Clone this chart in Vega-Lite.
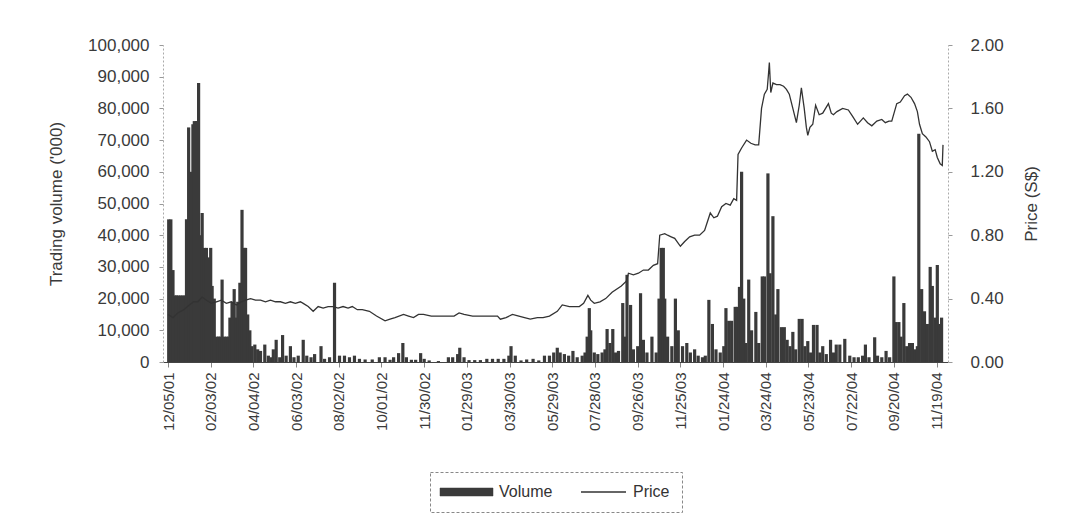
{
  "$schema": "https://vega.github.io/schema/vega-lite/v6.json",
  "width": 785,
  "height": 317,
  "autosize": {"type": "none"},
  "padding": {"left": 163, "top": 45, "right": 119, "bottom": 159},
  "background": "white",
  "config": {
    "view": {"stroke": null},
    "font": "Liberation Sans",
    "axis": {"labelFont": "Liberation Sans", "titleFont": "Liberation Sans", "labelColor": "#3a3a3a", "titleColor": "#3a3a3a", "grid": false, "titleFontWeight": "normal"}
  },
  "datasets": {
    "vol": [
      {"d":"2001-12-06","v":45000},{"d":"2001-12-09","v":45000},{"d":"2001-12-12","v":29000},{"d":"2001-12-15","v":21000},
      {"d":"2001-12-17","v":21000},{"d":"2001-12-20","v":21000},{"d":"2001-12-23","v":21000},{"d":"2001-12-26","v":21000},
      {"d":"2001-12-29","v":21000},{"d":"2001-12-31","v":45000},{"d":"2002-01-03","v":74000},{"d":"2002-01-06","v":60000},
      {"d":"2002-01-09","v":75000},{"d":"2002-01-11","v":76000},{"d":"2002-01-14","v":76000},{"d":"2002-01-17","v":88000},
      {"d":"2002-01-20","v":40000},{"d":"2002-01-22","v":47000},{"d":"2002-01-25","v":36000},{"d":"2002-01-28","v":36000},
      {"d":"2002-01-31","v":33000},{"d":"2002-02-03","v":36000},{"d":"2002-02-05","v":24000},{"d":"2002-02-08","v":20000},
      {"d":"2002-02-11","v":8000},{"d":"2002-02-14","v":8000},{"d":"2002-02-16","v":8000},{"d":"2002-02-19","v":26000},
      {"d":"2002-02-22","v":8000},{"d":"2002-02-25","v":8000},{"d":"2002-02-28","v":8000},{"d":"2002-03-02","v":14000},
      {"d":"2002-03-05","v":19000},{"d":"2002-03-08","v":23000},{"d":"2002-03-11","v":14000},{"d":"2002-03-13","v":19000},
      {"d":"2002-03-16","v":25000},{"d":"2002-03-19","v":48000},{"d":"2002-03-22","v":36000},{"d":"2002-03-24","v":36000},
      {"d":"2002-03-27","v":15000},{"d":"2002-03-30","v":10000},{"d":"2002-04-02","v":5000},{"d":"2002-04-06","v":5500},
      {"d":"2002-04-10","v":4000},{"d":"2002-04-14","v":3500},{"d":"2002-04-20","v":5500},{"d":"2002-04-25","v":2000},
      {"d":"2002-04-29","v":1500},{"d":"2002-05-02","v":4000},{"d":"2002-05-06","v":7000},{"d":"2002-05-11","v":1500},
      {"d":"2002-05-15","v":8500},{"d":"2002-05-20","v":2000},{"d":"2002-05-26","v":5000},{"d":"2002-05-31","v":1500},
      {"d":"2002-06-06","v":2000},{"d":"2002-06-13","v":7000},{"d":"2002-06-18","v":2000},{"d":"2002-06-24","v":1500},
      {"d":"2002-06-29","v":2500},{"d":"2002-07-08","v":5000},{"d":"2002-07-13","v":1000},{"d":"2002-07-20","v":1500},
      {"d":"2002-07-27","v":25000},{"d":"2002-08-03","v":2000},{"d":"2002-08-10","v":2000},{"d":"2002-08-17","v":1500},
      {"d":"2002-08-24","v":2000},{"d":"2002-08-31","v":1000},{"d":"2002-09-08","v":800},{"d":"2002-09-18","v":800},
      {"d":"2002-09-28","v":1500},{"d":"2002-10-06","v":1500},{"d":"2002-10-13","v":700},{"d":"2002-10-18","v":1500},
      {"d":"2002-10-25","v":2800},{"d":"2002-10-31","v":6000},{"d":"2002-11-05","v":1500},{"d":"2002-11-12","v":700},
      {"d":"2002-11-18","v":700},{"d":"2002-11-25","v":2800},{"d":"2002-11-30","v":1000},{"d":"2002-12-07","v":500},
      {"d":"2002-12-20","v":300},{"d":"2003-01-03","v":1500},{"d":"2003-01-09","v":1500},{"d":"2003-01-16","v":2500},
      {"d":"2003-01-19","v":4500},{"d":"2003-01-25","v":1500},{"d":"2003-02-01","v":600},{"d":"2003-02-09","v":600},
      {"d":"2003-02-17","v":600},{"d":"2003-02-26","v":1000},{"d":"2003-03-06","v":1000},{"d":"2003-03-14","v":1000},
      {"d":"2003-03-22","v":1000},{"d":"2003-03-29","v":2000},{"d":"2003-04-01","v":5000},{"d":"2003-04-07","v":2000},
      {"d":"2003-04-15","v":500},{"d":"2003-04-23","v":800},{"d":"2003-05-02","v":1000},{"d":"2003-05-10","v":500},
      {"d":"2003-05-18","v":2000},{"d":"2003-05-25","v":2000},{"d":"2003-05-31","v":3000},{"d":"2003-06-05","v":4500},
      {"d":"2003-06-09","v":3000},{"d":"2003-06-15","v":2500},{"d":"2003-06-21","v":2000},{"d":"2003-06-27","v":3500},
      {"d":"2003-07-03","v":1500},{"d":"2003-07-10","v":2000},{"d":"2003-07-14","v":3000},{"d":"2003-07-17","v":8000},
      {"d":"2003-07-20","v":17000},{"d":"2003-07-22","v":10000},{"d":"2003-07-27","v":3000},{"d":"2003-08-01","v":2500},
      {"d":"2003-08-07","v":3000},{"d":"2003-08-11","v":4000},{"d":"2003-08-14","v":10400},{"d":"2003-08-18","v":6000},
      {"d":"2003-08-22","v":10400},{"d":"2003-08-26","v":3000},{"d":"2003-08-30","v":3500},{"d":"2003-09-05","v":18600},
      {"d":"2003-09-09","v":8000},{"d":"2003-09-11","v":27500},{"d":"2003-09-16","v":18000},{"d":"2003-09-20","v":4000},
      {"d":"2003-09-26","v":5000},{"d":"2003-09-30","v":21700},{"d":"2003-10-04","v":7000},{"d":"2003-10-09","v":3000},
      {"d":"2003-10-16","v":8000},{"d":"2003-10-22","v":3000},{"d":"2003-10-26","v":20000},{"d":"2003-10-29","v":36000},
      {"d":"2003-11-01","v":36000},{"d":"2003-11-03","v":20000},{"d":"2003-11-07","v":8000},{"d":"2003-11-13","v":5000},
      {"d":"2003-11-18","v":20000},{"d":"2003-11-22","v":10000},{"d":"2003-11-28","v":5000},{"d":"2003-12-04","v":6000},
      {"d":"2003-12-09","v":3000},{"d":"2003-12-15","v":4000},{"d":"2003-12-20","v":2000},{"d":"2003-12-26","v":1500},
      {"d":"2003-12-30","v":2000},{"d":"2004-01-04","v":19600},{"d":"2004-01-09","v":12000},{"d":"2004-01-14","v":4000},
      {"d":"2004-01-20","v":3000},{"d":"2004-01-25","v":5000},{"d":"2004-01-28","v":17000},{"d":"2004-02-01","v":13000},
      {"d":"2004-02-05","v":13000},{"d":"2004-02-10","v":17400},{"d":"2004-02-13","v":17400},{"d":"2004-02-16","v":23700},
      {"d":"2004-02-19","v":60000},{"d":"2004-02-22","v":20000},{"d":"2004-02-25","v":6000},{"d":"2004-02-29","v":26000},
      {"d":"2004-03-04","v":10000},{"d":"2004-03-10","v":15800},{"d":"2004-03-14","v":6000},{"d":"2004-03-19","v":27000},
      {"d":"2004-03-22","v":27000},{"d":"2004-03-27","v":59500},{"d":"2004-03-30","v":28000},{"d":"2004-04-03","v":46000},
      {"d":"2004-04-07","v":15000},{"d":"2004-04-10","v":23000},{"d":"2004-04-15","v":11000},{"d":"2004-04-19","v":11000},
      {"d":"2004-04-23","v":7000},{"d":"2004-04-27","v":5000},{"d":"2004-05-01","v":9500},{"d":"2004-05-05","v":4000},
      {"d":"2004-05-10","v":13600},{"d":"2004-05-14","v":13600},{"d":"2004-05-18","v":5000},{"d":"2004-05-22","v":6600},
      {"d":"2004-05-26","v":3000},{"d":"2004-05-30","v":11700},{"d":"2004-06-04","v":11700},{"d":"2004-06-08","v":3000},
      {"d":"2004-06-12","v":5000},{"d":"2004-06-17","v":2500},{"d":"2004-06-23","v":7000},{"d":"2004-06-27","v":3000},
      {"d":"2004-07-01","v":5500},{"d":"2004-07-06","v":5500},{"d":"2004-07-13","v":7300},{"d":"2004-07-20","v":2000},
      {"d":"2004-07-26","v":1500},{"d":"2004-08-01","v":1500},{"d":"2004-08-07","v":2000},{"d":"2004-08-11","v":5500},
      {"d":"2004-08-16","v":1500},{"d":"2004-08-24","v":7800},{"d":"2004-08-28","v":2000},{"d":"2004-09-03","v":1500},
      {"d":"2004-09-09","v":3500},{"d":"2004-09-14","v":1500},{"d":"2004-09-20","v":27000},{"d":"2004-09-23","v":12600},
      {"d":"2004-09-27","v":12600},{"d":"2004-09-30","v":8000},{"d":"2004-10-04","v":18600},{"d":"2004-10-08","v":5000},
      {"d":"2004-10-12","v":6000},{"d":"2004-10-16","v":6000},{"d":"2004-10-20","v":4000},{"d":"2004-10-23","v":5000},
      {"d":"2004-10-25","v":72000},{"d":"2004-10-29","v":23000},{"d":"2004-11-02","v":16000},{"d":"2004-11-06","v":12000},
      {"d":"2004-11-10","v":30000},{"d":"2004-11-13","v":24000},{"d":"2004-11-17","v":14000},{"d":"2004-11-20","v":30600},
      {"d":"2004-11-23","v":12000},{"d":"2004-11-26","v":14000}
    ],
    "price": [
      {"d":"2001-12-05","p":0.30},{"d":"2001-12-12","p":0.28},{"d":"2001-12-19","p":0.31},{"d":"2001-12-27","p":0.33},
      {"d":"2002-01-04","p":0.36},{"d":"2002-01-10","p":0.38},{"d":"2002-01-16","p":0.38},{"d":"2002-01-22","p":0.41},
      {"d":"2002-01-28","p":0.39},{"d":"2002-02-04","p":0.37},{"d":"2002-02-11","p":0.38},{"d":"2002-02-18","p":0.39},
      {"d":"2002-02-25","p":0.37},{"d":"2002-03-04","p":0.38},{"d":"2002-03-11","p":0.36},{"d":"2002-03-18","p":0.38},
      {"d":"2002-03-24","p":0.39},{"d":"2002-03-31","p":0.40},{"d":"2002-04-07","p":0.39},{"d":"2002-04-14","p":0.39},
      {"d":"2002-04-21","p":0.38},{"d":"2002-04-28","p":0.39},{"d":"2002-05-05","p":0.38},{"d":"2002-05-12","p":0.38},
      {"d":"2002-05-19","p":0.37},{"d":"2002-05-26","p":0.38},{"d":"2002-06-02","p":0.37},{"d":"2002-06-09","p":0.38},
      {"d":"2002-06-13","p":0.37},{"d":"2002-06-20","p":0.35},{"d":"2002-06-27","p":0.32},{"d":"2002-07-04","p":0.35},
      {"d":"2002-07-11","p":0.34},{"d":"2002-07-18","p":0.35},{"d":"2002-07-25","p":0.35},{"d":"2002-08-01","p":0.34},
      {"d":"2002-08-08","p":0.35},{"d":"2002-08-15","p":0.34},{"d":"2002-08-21","p":0.35},{"d":"2002-08-28","p":0.33},
      {"d":"2002-09-04","p":0.33},{"d":"2002-09-14","p":0.32},{"d":"2002-09-24","p":0.29},{"d":"2002-10-06","p":0.26},
      {"d":"2002-10-13","p":0.27},{"d":"2002-10-20","p":0.28},{"d":"2002-11-01","p":0.30},{"d":"2002-11-08","p":0.29},
      {"d":"2002-11-15","p":0.28},{"d":"2002-11-22","p":0.30},{"d":"2002-11-29","p":0.30},{"d":"2002-12-10","p":0.29},
      {"d":"2002-12-20","p":0.29},{"d":"2003-01-04","p":0.29},{"d":"2003-01-11","p":0.29},{"d":"2003-01-18","p":0.31},
      {"d":"2003-01-25","p":0.30},{"d":"2003-02-06","p":0.29},{"d":"2003-02-17","p":0.29},{"d":"2003-03-01","p":0.29},
      {"d":"2003-03-13","p":0.29},{"d":"2003-03-17","p":0.27},{"d":"2003-03-25","p":0.28},{"d":"2003-04-03","p":0.30},
      {"d":"2003-04-12","p":0.29},{"d":"2003-04-20","p":0.28},{"d":"2003-04-28","p":0.27},{"d":"2003-05-08","p":0.28},
      {"d":"2003-05-16","p":0.28},{"d":"2003-05-25","p":0.29},{"d":"2003-06-05","p":0.32},{"d":"2003-06-12","p":0.36},
      {"d":"2003-06-22","p":0.35},{"d":"2003-07-06","p":0.35},{"d":"2003-07-12","p":0.37},{"d":"2003-07-18","p":0.42},
      {"d":"2003-07-22","p":0.39},{"d":"2003-07-27","p":0.37},{"d":"2003-08-04","p":0.38},{"d":"2003-08-12","p":0.40},
      {"d":"2003-08-21","p":0.44},{"d":"2003-09-03","p":0.48},{"d":"2003-09-10","p":0.51},{"d":"2003-09-13","p":0.56},
      {"d":"2003-09-20","p":0.55},{"d":"2003-09-27","p":0.56},{"d":"2003-10-04","p":0.58},{"d":"2003-10-11","p":0.58},
      {"d":"2003-10-18","p":0.61},{"d":"2003-10-24","p":0.62},{"d":"2003-10-27","p":0.80},{"d":"2003-11-03","p":0.81},
      {"d":"2003-11-07","p":0.80},{"d":"2003-11-12","p":0.79},{"d":"2003-11-17","p":0.78},{"d":"2003-11-25","p":0.73},
      {"d":"2003-12-01","p":0.76},{"d":"2003-12-08","p":0.79},{"d":"2003-12-15","p":0.80},{"d":"2003-12-22","p":0.80},
      {"d":"2003-12-29","p":0.83},{"d":"2004-01-06","p":0.94},{"d":"2004-01-11","p":0.91},{"d":"2004-01-16","p":0.92},
      {"d":"2004-01-22","p":0.98},{"d":"2004-01-28","p":1.00},{"d":"2004-02-03","p":0.99},{"d":"2004-02-08","p":1.03},
      {"d":"2004-02-12","p":1.02},{"d":"2004-02-14","p":1.31},{"d":"2004-02-19","p":1.35},{"d":"2004-02-26","p":1.40},
      {"d":"2004-03-03","p":1.38},{"d":"2004-03-09","p":1.37},{"d":"2004-03-14","p":1.37},{"d":"2004-03-18","p":1.60},
      {"d":"2004-03-22","p":1.69},{"d":"2004-03-26","p":1.72},{"d":"2004-03-28","p":1.83},{"d":"2004-03-29","p":1.89},
      {"d":"2004-03-31","p":1.70},{"d":"2004-04-03","p":1.76},{"d":"2004-04-08","p":1.75},{"d":"2004-04-13","p":1.75},
      {"d":"2004-04-18","p":1.74},{"d":"2004-04-22","p":1.72},{"d":"2004-04-26","p":1.69},{"d":"2004-05-01","p":1.60},
      {"d":"2004-05-06","p":1.51},{"d":"2004-05-10","p":1.62},{"d":"2004-05-13","p":1.73},{"d":"2004-05-17","p":1.60},
      {"d":"2004-05-20","p":1.48},{"d":"2004-05-22","p":1.43},{"d":"2004-05-25","p":1.48},{"d":"2004-05-29","p":1.50},
      {"d":"2004-06-02","p":1.62},{"d":"2004-06-07","p":1.56},{"d":"2004-06-12","p":1.57},{"d":"2004-06-16","p":1.60},
      {"d":"2004-06-20","p":1.63},{"d":"2004-06-24","p":1.57},{"d":"2004-06-27","p":1.56},{"d":"2004-07-02","p":1.58},
      {"d":"2004-07-10","p":1.60},{"d":"2004-07-18","p":1.59},{"d":"2004-07-24","p":1.55},{"d":"2004-07-31","p":1.50},
      {"d":"2004-08-04","p":1.52},{"d":"2004-08-08","p":1.54},{"d":"2004-08-14","p":1.51},{"d":"2004-08-20","p":1.49},
      {"d":"2004-08-27","p":1.52},{"d":"2004-09-03","p":1.53},{"d":"2004-09-08","p":1.51},{"d":"2004-09-13","p":1.52},
      {"d":"2004-09-17","p":1.52},{"d":"2004-09-24","p":1.63},{"d":"2004-09-29","p":1.64},{"d":"2004-10-05","p":1.68},
      {"d":"2004-10-09","p":1.69},{"d":"2004-10-14","p":1.67},{"d":"2004-10-19","p":1.63},{"d":"2004-10-23","p":1.58},
      {"d":"2004-10-26","p":1.50},{"d":"2004-10-30","p":1.44},{"d":"2004-11-04","p":1.42},{"d":"2004-11-09","p":1.39},
      {"d":"2004-11-13","p":1.33},{"d":"2004-11-17","p":1.34},{"d":"2004-11-20","p":1.29},{"d":"2004-11-24","p":1.25},
      {"d":"2004-11-27","p":1.24},{"d":"2004-11-28","p":1.37}
    ]
  },
  "encoding": {
    "x": {
      "field": "d",
      "type": "temporal",
      "scale": {
        "type": "utc",
        "domain": [{"year": 2001, "month": 12, "date": 5, "utc": true}, {"year": 2004, "month": 11, "date": 28, "utc": true}]
      },
      "axis": {
        "title": null,
        "labelExpr": "utcFormat(datum.value, '%m/%d/%y')",
        "labelAngle": -90,
        "labelAlign": "right",
        "labelBaseline": "middle",
        "labelFontSize": 15,
        "labelPadding": 5,
        "tickSize": 5,
        "tickColor": "#888",
        "domainColor": "#444",
        "labelOverlap": false,
        "values": [
          {"year": 2001, "month": 12, "date": 5, "utc": true},
          {"year": 2002, "month": 2, "date": 3, "utc": true},
          {"year": 2002, "month": 4, "date": 4, "utc": true},
          {"year": 2002, "month": 6, "date": 3, "utc": true},
          {"year": 2002, "month": 8, "date": 2, "utc": true},
          {"year": 2002, "month": 10, "date": 1, "utc": true},
          {"year": 2002, "month": 11, "date": 30, "utc": true},
          {"year": 2003, "month": 1, "date": 29, "utc": true},
          {"year": 2003, "month": 3, "date": 30, "utc": true},
          {"year": 2003, "month": 5, "date": 29, "utc": true},
          {"year": 2003, "month": 7, "date": 28, "utc": true},
          {"year": 2003, "month": 9, "date": 26, "utc": true},
          {"year": 2003, "month": 11, "date": 25, "utc": true},
          {"year": 2004, "month": 1, "date": 24, "utc": true},
          {"year": 2004, "month": 3, "date": 24, "utc": true},
          {"year": 2004, "month": 5, "date": 23, "utc": true},
          {"year": 2004, "month": 7, "date": 22, "utc": true},
          {"year": 2004, "month": 9, "date": 20, "utc": true},
          {"year": 2004, "month": 11, "date": 19, "utc": true}
        ]
      }
    }
  },
  "layer": [
    {
      "data": {"name": "vol"},
      "mark": {"type": "bar", "size": 3.2, "clip": true},
      "encoding": {
        "y": {
          "field": "v",
          "type": "quantitative",
          "scale": {"domain": [0, 100000], "nice": false},
          "axis": {
            "title": "Trading volume ('000)",
            "titleFontSize": 17,
            "titlePadding": 22,
            "labelFontSize": 17,
            "format": ",.0f",
            "values": [0,10000,20000,30000,40000,50000,60000,70000,80000,90000,100000],
            "labelPadding": 10,
            "tickSize": 4,
            "tickColor": "#999",
            "domainColor": "#aaa",
            "domainDash": [2, 2]
          }
        },
        "color": {
          "datum": "Volume",
          "type": "nominal",
          "scale": {"domain": ["Volume", "Price"], "range": ["#3a3a3a", "#333333"]},
          "legend": {
            "title": null,
            "orient": "none",
            "legendX": 267,
            "legendY": 427,
            "direction": "horizontal",
            "padding": 12,
            "strokeColor": "#888",
            "fillColor": "white",
            "labelFontSize": 16,
            "labelFont": "Liberation Sans",
            "labelColor": "#333",
            "labelOffset": 41,
            "columnPadding": 23,
            "symbolSize": 100,
            "encode": {
              "legend": {
                "update": {
                  "strokeDash": {"value": [3, 2]}
                }
              },
              "symbols": {
                "update": {
                  "shape": {"signal": "datum.value == 'Price' ? 'M-0.6,0H8.4' : 'M-2,-0.8H8.6V0.8H-2Z'"},
                  "fill": {"signal": "datum.value == 'Price' ? 'transparent' : '#4a4a4a'"},
                  "stroke": {"value": "#333"},
                  "strokeWidth": {"signal": "datum.value == 'Price' ? 1.3 : 0.5"}
                }
              }
            }
          }
        }
      }
    },
    {
      "data": {"name": "price"},
      "mark": {"type": "line", "strokeWidth": 1.3, "clip": true},
      "encoding": {
        "y": {
          "field": "p",
          "type": "quantitative",
          "scale": {"domain": [0, 2], "nice": false},
          "axis": {
            "orient": "right",
            "title": "Price (S$)",
            "titleAngle": 270,
            "titleBaseline": "top",
            "titleFontSize": 17,
            "titlePadding": 20,
            "labelFontSize": 17,
            "format": ".2f",
            "values": [0, 0.4, 0.8, 1.2, 1.6, 2.0],
            "labelPadding": 18,
            "tickSize": 4,
            "tickColor": "#999",
            "domainColor": "#aaa",
            "domainDash": [2, 2]
          }
        },
        "color": {"datum": "Price", "type": "nominal"}
      }
    }
  ],
  "resolve": {"scale": {"y": "independent"}}
}
